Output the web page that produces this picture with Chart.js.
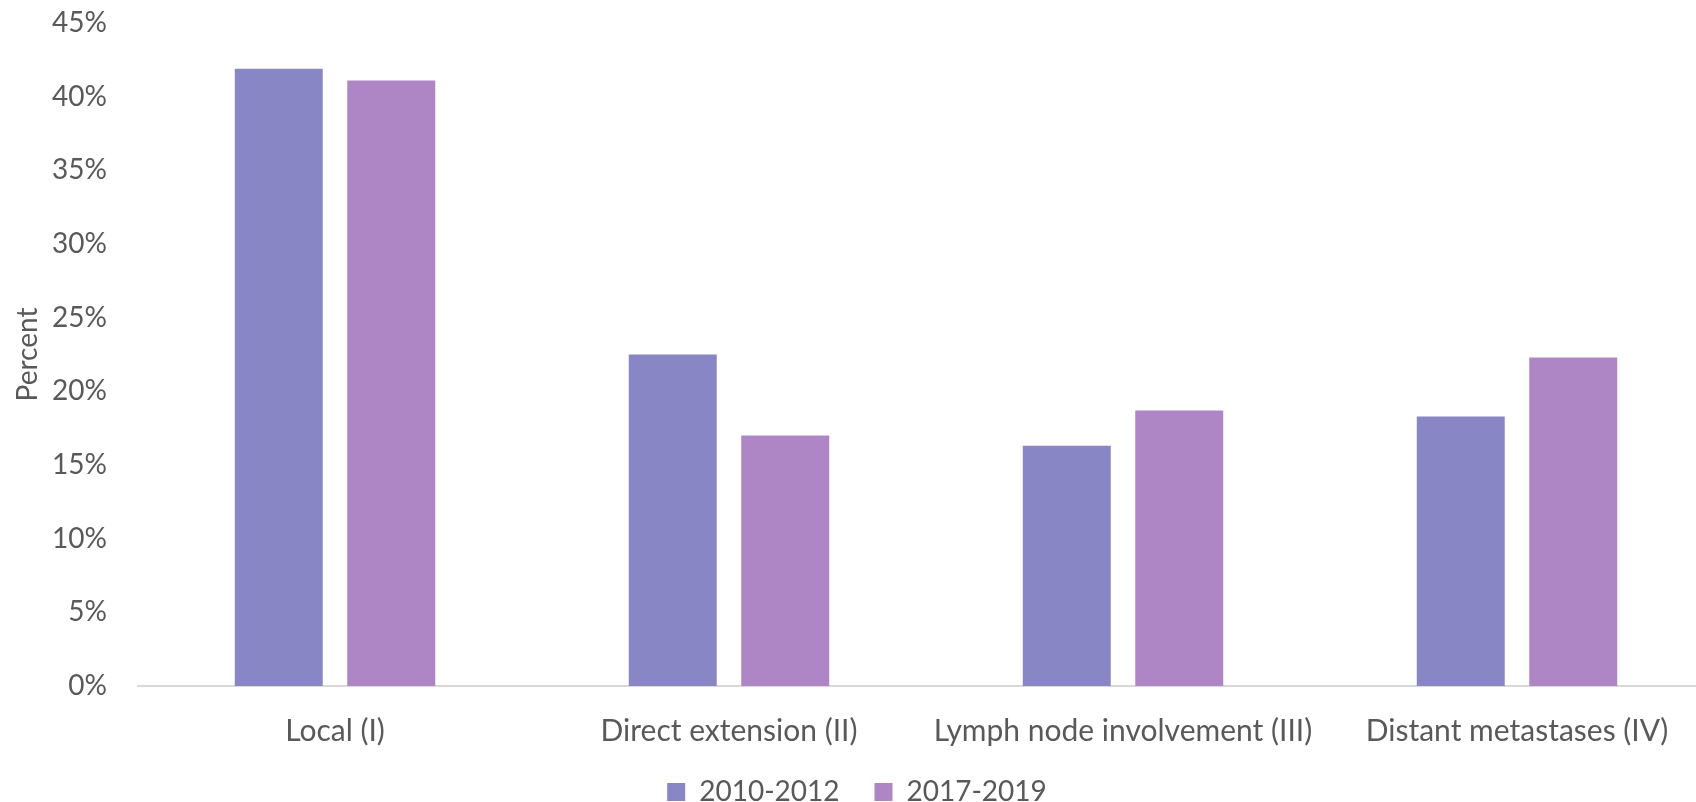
<!DOCTYPE html>
<html>
<head>
<meta charset="utf-8">
<script src="https://cdn.jsdelivr.net/npm/chart.js@4.4.1/dist/chart.umd.min.js"></script>
<style>
  html, body { margin: 0; padding: 0; background: #ffffff; }
  #wrap { width: 1696px; height: 802px; position: relative; }
</style>
</head>
<body>
<div id="wrap"><canvas id="stages"></canvas></div>
<script>
// Stage at diagnosis, share of cases per period
const categories = ['Local (I)', 'Direct extension (II)', 'Lymph node involvement (III)', 'Distant metastases (IV)'];
const period2010 = [41.9, 22.5, 16.3, 18.3];
const period2017 = [41.1, 17.0, 18.7, 22.3];
const seriesLabels = ['2010-2012', '2017-2019'];
const yMax = 45;
const yStep = 5;

const textColor = '#595959';
const fontFamily = 'Lato, "Open Sans", sans-serif';
const bigFont = { family: fontFamily, size: 28 };

// plot area runs a little past the right edge, like the original
const overhang = 18;

const stretchPlot = {
  id: 'stretchPlot',
  afterLayout(chart) {
    const x = chart.scales.x;
    x.right += overhang;
    x.width = x.right - x.left;
    x.configure();
    chart.chartArea.right = x.right;
    chart.chartArea.width = x.width;
  }
};

new Chart(document.getElementById('stages'), {
  type: 'bar',
  data: {
    labels: categories,
    datasets: [
      {
        label: seriesLabels[0],
        data: period2010,
        backgroundColor: '#8986C6',
        borderWidth: 0,
        categoryPercentage: 0.571,
        barPercentage: 0.782
      },
      {
        label: seriesLabels[1],
        data: period2017,
        backgroundColor: '#AE85C5',
        borderWidth: 0,
        categoryPercentage: 0.571,
        barPercentage: 0.782
      }
    ]
  },
  options: {
    responsive: true,
    maintainAspectRatio: false,
    animation: false,
    layout: { padding: { top: 23, right: -overhang, bottom: -14, left: 0 } },
    plugins: {
      legend: {
        position: 'bottom',
        labels: {
          color: textColor,
          font: bigFont,
          boxWidth: 18,
          boxHeight: 18,
          padding: 35
        }
      },
      tooltip: { enabled: false }
    },
    scales: {
      x: {
        grid: { display: false, drawTicks: false },
        border: { display: true, color: '#D9D9D9', width: 2 },
        ticks: {
          color: textColor,
          font: { family: fontFamily, size: 30 },
          padding: 27,
          maxRotation: 0,
          autoSkip: false
        },
        afterFit(scale) {
          scale.height = 57;
          // let the labels spill below the (short) axis box
          scale._computeLabelArea = () => undefined;
        }
      },
      y: {
        min: 0,
        max: yMax,
        grid: { display: false, drawTicks: false },
        border: { display: false },
        ticks: {
          stepSize: yStep,
          color: textColor,
          font: bigFont,
          padding: 31,
          callback: v => v + '%'
        },
        title: {
          display: true,
          text: 'Percent',
          color: textColor,
          font: bigFont,
          padding: { top: 11, bottom: 0 }
        },
        afterFit(scale) {
          scale.width = 138;
          scale.paddingTop = 0;
        }
      }
    }
  },
  plugins: [stretchPlot]
});
</script>
</body>
</html>
